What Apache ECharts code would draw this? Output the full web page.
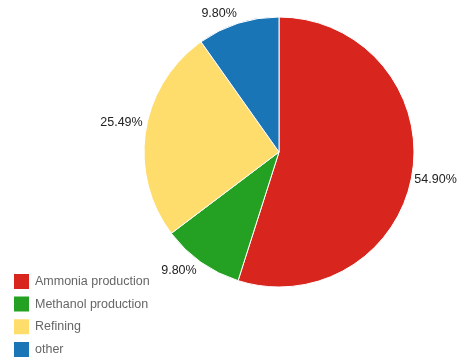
<!DOCTYPE html>
<html>
<head>
<meta charset="utf-8">
<script src="https://cdn.jsdelivr.net/npm/echarts@6/dist/echarts.min.js"></script>
<style>
  html, body { margin: 0; padding: 0; background: #fff; }
  #chart { width: 457px; height: 362px; }
</style>
</head>
<body>
<div id="chart"></div>
<script>
// Hydrogen demand by end use
const categories = ['Ammonia production', 'Methanol production', 'Refining', 'other'];
const values = [56, 10, 26, 10];
const colors = ['#d8261f', '#24a122', '#fedd6d', '#1a75b7'];

const total = values.reduce((a, b) => a + b, 0);

// small nudges so the outer labels sit a little away from the rim
const labelNudge = [[-7, 6], [3, 5], [6, -8], [5, -6]];

const chart = echarts.init(document.getElementById('chart'));
chart.setOption({
  animation: false,
  color: colors,
  legend: {
    orient: 'vertical',
    left: 12,
    bottom: 3,
    padding: 0,
    itemWidth: 17,
    itemHeight: 17,
    itemGap: 3.7,
    icon: 'rect',
    textStyle: { color: '#666', fontSize: 12.5, fontFamily: 'Liberation Sans, Arial, sans-serif' },
    data: categories
  },
  series: [{
    type: 'pie',
    center: [279, 152],
    radius: 135,
    startAngle: 90,
    clockwise: true,
    itemStyle: { borderColor: '#fff', borderWidth: 1 },
    label: {
      show: true,
      position: 'outside',
      formatter: p => (p.value / total * 100).toFixed(2) + '%',
      color: '#222',
      fontSize: 12.5,
      overflow: 'none',
      fontFamily: 'Liberation Sans, Arial, sans-serif'
    },
    labelLine: { show: false, length: 4, length2: 0 },
    labelLayout: p => ({ dx: labelNudge[p.dataIndex][0], dy: labelNudge[p.dataIndex][1] }),
    emphasis: { disabled: true },
    data: categories.map((name, i) => ({ name, value: values[i] }))
  }]
});
</script>
</body>
</html>
